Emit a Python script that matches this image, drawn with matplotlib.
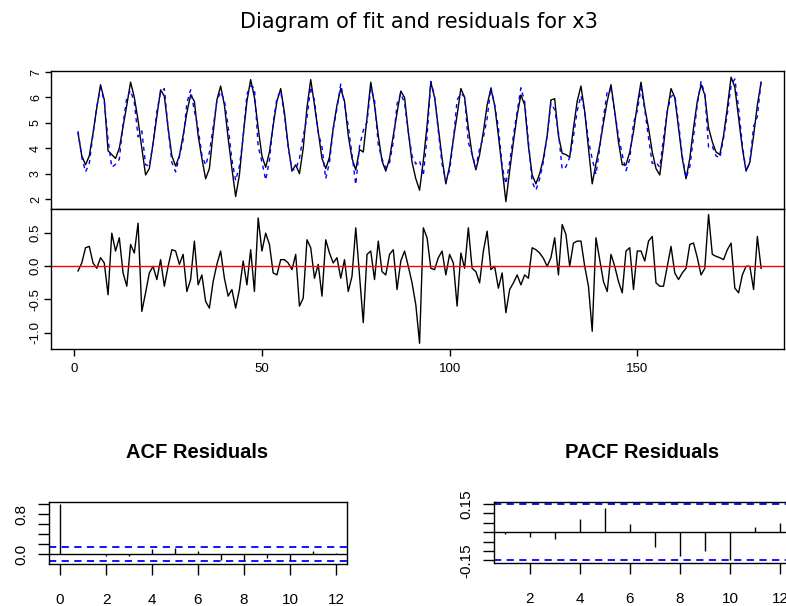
import numpy as np
import matplotlib
matplotlib.use("Agg")
import matplotlib.pyplot as plt

plt.rcParams['font.family'] = ['Liberation Sans', 'DejaVu Sans']

x3 = [4.6, 3.7, 3.35, 3.7, 4.6, 5.6, 6.5, 5.9, 3.9, 3.75,
      3.6, 4.0, 4.85, 5.7, 6.6, 6.0, 5.1, 4.0, 2.95, 3.2,
      4.2, 5.25, 6.3, 6.05, 4.8, 3.7, 3.3, 3.7, 4.5, 5.4,
      6.1, 5.85, 4.5, 3.6, 2.8, 3.2, 4.6, 5.9, 6.45, 5.7,
      4.4, 3.2, 2.1, 2.95, 4.5, 5.85, 6.7, 6.0, 4.8, 3.7,
      3.25, 3.85, 4.9, 5.85, 6.35, 5.4, 4.1, 3.1, 3.35, 3.0,
      4.0, 5.6, 6.7, 5.7, 4.65, 3.6, 3.2, 3.65, 4.8, 5.7,
      6.35, 5.85, 4.5, 3.6, 3.15, 3.95, 3.85, 5.2, 6.6, 5.7,
      4.5, 3.5, 3.1, 3.6, 4.5, 5.4, 6.25, 6.0, 4.65, 3.45,
      2.8, 2.35, 3.5, 4.9, 6.6, 6.0, 4.8, 3.6, 2.6, 3.3,
      4.35, 5.3, 6.35, 6.0, 4.8, 3.75, 3.15, 3.75, 4.65, 5.7,
      6.35, 5.7, 4.5, 3.2, 1.9, 3.1, 4.25, 5.3, 6.1, 5.7,
      4.1, 2.95, 2.6, 3.0, 3.6, 4.5, 5.9, 5.95, 4.5, 3.8,
      3.75, 3.65, 4.8, 5.85, 6.45, 5.45, 4.0, 2.6, 3.4, 4.1,
      5.0, 5.85, 6.5, 5.45, 4.25, 3.35, 3.35, 3.85, 4.65, 5.7,
      6.6, 5.6, 4.8, 3.85, 3.2, 2.95, 4.1, 5.45, 6.35, 6.0,
      4.8, 3.6, 2.8, 3.6, 4.8, 5.85, 6.5, 6.1, 4.8, 4.25,
      3.85, 3.75, 4.5, 5.6, 6.8, 6.4, 5.2, 4.0, 3.1, 3.45,
      4.5, 5.7, 6.6]

# residuals (bottom panel of the top figure)
resid = [-0.07, 0.05, 0.28, 0.30, 0.05, -0.03, 0.13, 0.05, -0.43, 0.50,
         0.23, 0.43, -0.10, -0.30, 0.33, 0.20, 0.65, -0.68, -0.40, -0.10,
         0.00, -0.20, 0.10, -0.30, 0.00, 0.25, 0.23, 0.03, 0.18, -0.38,
         -0.20, 0.38, -0.28, -0.13, -0.53, -0.63, -0.23, 0.03, 0.23, -0.18,
         -0.45, -0.35, -0.63, -0.35, 0.08, -0.28, 0.25, -0.38, 0.73, 0.23,
         0.50, 0.33, -0.10, -0.13, 0.10, 0.10, 0.05, -0.05, 0.18, -0.60,
         -0.48, 0.40, 0.28, -0.18, 0.03, -0.45, 0.40, 0.20, 0.05, 0.13,
         -0.18, 0.10, -0.38, -0.15, 0.58, -0.13, -0.85, 0.18, 0.23, -0.20,
         0.38, -0.08, -0.13, 0.18, 0.25, -0.35, 0.08, 0.23, 0.00, -0.25,
         -0.58, -1.16, 0.58, 0.43, -0.03, -0.05, 0.13, 0.23, -0.13, 0.18,
         0.05, -0.60, 0.20, -0.03, 0.58, -0.03, -0.08, -0.25, 0.23, 0.53,
         -0.05, 0.00, -0.33, -0.10, -0.70, -0.35, -0.25, -0.13, -0.28, -0.13,
         -0.18, 0.28, 0.25, 0.20, 0.12, 0.00, 0.13, 0.43, -0.13, 0.63,
         0.48, 0.00, 0.35, 0.38, 0.38, 0.00, -0.30, -0.98, 0.43, 0.10,
         -0.23, -0.38, 0.18, 0.00, -0.23, -0.40, 0.23, 0.28, -0.35, 0.23,
         0.23, 0.08, 0.38, 0.45, -0.25, -0.30, -0.30, 0.00, 0.30, -0.10,
         -0.20, -0.10, -0.03, 0.33, 0.35, 0.13, -0.13, -0.03, 0.78, 0.18,
         0.15, 0.13, 0.10, 0.25, 0.35, -0.33, -0.40, -0.13, 0.00, 0.00,
         -0.35, 0.45, -0.03]

acf_lags = list(range(0, 13))
acf_vals = [1.0, -0.01, -0.04, -0.04, 0.09, 0.13, 0.05, -0.13, -0.13, -0.08, -0.15, 0.05, 0.01]
pacf_lags = list(range(1, 13))
pacf_vals = [-0.01, -0.027, -0.035, 0.07, 0.127, 0.042, -0.081, -0.129, -0.10, -0.15, 0.026, 0.05]
conf = 0.148

x3 = np.array(x3)
resid = np.array(resid)
fitted = x3 - resid
t = np.arange(1, len(x3) + 1)

W, H = 786, 606
fig = plt.figure(figsize=(W / 100, H / 100), dpi=100)


def box(l, t_, r, b):
    return [l / W, 1 - b / H, (r - l) / W, (b - t_) / H]


def r_style(ax, fs, tl=4.5):
    for s in ax.spines.values():
        s.set_linewidth(1.0)
    ax.tick_params(direction='out', length=tl, width=1.0, labelsize=fs, pad=2)


# top: fit
ax1 = fig.add_axes(box(51, 71, 784, 209))
ax1.plot(t, x3, color='black', lw=1.0)
ax1.plot(t, fitted, color='blue', lw=1.0, dashes=(3, 3))
ax1.set_xlim(-6.2, 189.1)
ax1.set_ylim(1.61, 7.04)
ax1.set_yticks([2, 3, 4, 5, 6, 7])
ax1.set_yticklabels(['2', '3', '4', '5', '6', '7'], rotation=90, va='center')
ax1.set_xticks([])
r_style(ax1, 9)

# residuals
ax2 = fig.add_axes(box(51, 209, 784, 349))
ax2.plot(t, resid, color='black', lw=1.0)
ax2.axhline(0, color='red', lw=1.0)
ax2.set_xlim(-6.2, 189.1)
ax2.set_ylim(-1.247, 0.864)
ax2.set_yticks([-1.0, -0.5, 0.0, 0.5])
ax2.set_yticklabels(['-1.0', '-0.5', '0.0', '0.5'], rotation=90, va='center')
ax2.set_xticks([0, 50, 100, 150])
r_style(ax2, 9.5, tl=5)
ax2.tick_params(axis='x', pad=5)

fig.text(419 / W, 1 - 22 / H, 'Diagram of fit and residuals for x3',
         ha='center', va='center', fontsize=15, family=['DejaVu Sans'])

# ACF
ax3 = fig.add_axes(box(49, 502, 347, 563.6))
ax3.vlines(acf_lags, 0, acf_vals, color='black', lw=1.0)
ax3.axhline(0, color='black', lw=1.0)
for c in (conf, -conf):
    ax3.axhline(c, color='blue', lw=1.3, dashes=(4, 3))
ax3.set_xlim(-0.48, 12.48)
ax3.set_ylim(-0.194, 1.046)
ax3.set_xticks(range(0, 13, 2))
ax3.set_yticks([0.0, 0.2, 0.4, 0.6, 0.8, 1.0])
ax3.set_yticklabels(['0.0', '', '', '', '0.8', ''], rotation=90, va='center')
r_style(ax3, 11, tl=8)
ax3.tick_params(axis='x', pad=13)
ax3.tick_params(axis='y', pad=7)

# PACF
ax4 = fig.add_axes(box(494, 501.7, 791, 562.7))
ax4.vlines(pacf_lags, 0, pacf_vals, color='black', lw=1.0)
ax4.axhline(0, color='black', lw=1.0)
for c in (conf, -conf):
    ax4.axhline(c, color='blue', lw=1.3, dashes=(4, 3))
ax4.set_xlim(0.56, 12.44)
ax4.set_ylim(-0.162, 0.161)
ax4.set_xticks(range(2, 13, 2))
ax4.set_yticks([-0.15, -0.10, -0.05, 0.0, 0.05, 0.10, 0.15])
ax4.set_yticklabels(['-0.15', '', '', '', '', '', '0.15'], rotation=90, va='center')
r_style(ax4, 11, tl=8)
ax4.tick_params(axis='x', pad=13)
ax4.tick_params(axis='y', pad=7)

narrow = ['Liberation Sans Narrow', 'Liberation Sans', 'DejaVu Sans']
fig.text(197 / W, 1 - 452 / H, 'ACF Residuals', ha='center', va='center',
         fontsize=14.5, fontweight='bold', family=narrow)
fig.text(642 / W, 1 - 452 / H, 'PACF Residuals', ha='center', va='center',
         fontsize=14.5, fontweight='bold', family=narrow)

fig.savefig('out.png', dpi=100)
